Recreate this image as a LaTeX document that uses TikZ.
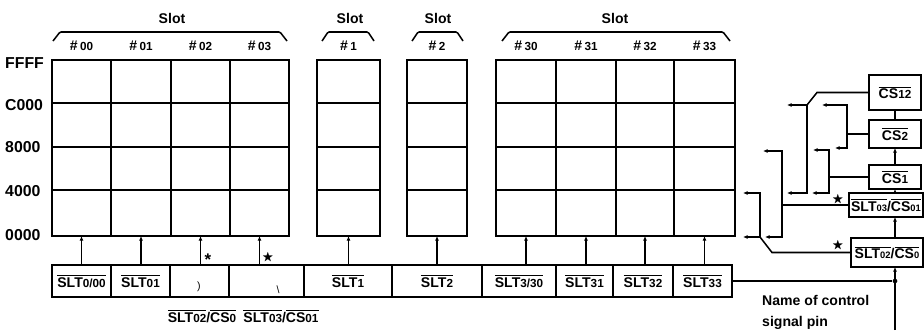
\documentclass[tikz,border=0pt]{standalone}
\usepackage{amssymb}
\usepackage{fontspec}
\setmainfont{Liberation Sans}
\usetikzlibrary{positioning, arrows.meta}
\newcommand{\nbar}[1]{$\overline{\hbox{#1}}$}
\newcommand{\lo}[1]{{\normalsize #1}}
\newcommand{\los}[1]{{\footnotesize #1}}
\tikzset{
  pxw/.style      = {minimum width=(#1)*0.03cm},
  pxh/.style      = {minimum height=(#1)*0.03cm},
  cell/.style     = {draw, line width=1.3pt, inner sep=0pt, outer sep=0pt},
  barcell/.style  = {draw, line width=1.3pt, inner sep=1pt, outer sep=0pt, minimum height=32*0.03cm, font=\large\bfseries},
  pinbox/.style   = {draw, line width=1.3pt, inner sep=0pt, outer sep=0pt, font=\large\bfseries},
  addr/.style     = {anchor=west, inner sep=0pt, font=\fontsize{13.5}{16}\selectfont\bfseries},
  slotlbl/.style  = {inner sep=0pt, font=\large\bfseries},
  hashlbl/.style  = {inner sep=0pt, font=\large\bfseries},
  sublbl/.style   = {inner sep=0pt, font=\large\bfseries},
  marklbl/.style  = {inner sep=0pt, font=\normalsize\bfseries},
  slotcap/.style  = {line width=1.3pt, rounded corners=1pt},
  fwd/.style      = {-{Latex[length=4pt, width=3.5pt]}, line width=1.1pt},
  wire/.style     = {line width=1.3pt},
  bracket/.style  = {{Latex[length=4pt, width=3.5pt]}-{Latex[length=4pt, width=3.5pt]}, line width=1.3pt},
  jdot/.style     = {circle, fill, inner sep=0pt, minimum size=4pt}
}

\begin{document}
\begin{tikzpicture}[x=0.03cm, y=-0.03cm]
  \useasboundingbox (0,0) rectangle (924,334);

    % ── Slot headers ─────────────────────────────────────────────────────
    \node[slotlbl] (slotL) at (172,18) {Slot};
    \node[slotlbl] (slot1) at (350,18) {Slot};
    \node[slotlbl] (slot2) at (438,18) {Slot};
    \node[slotlbl] (slot3) at (615,18) {Slot};

    \draw[slotcap] (53,41)  -- (60,32)  -- (280,32) -- (287,41);
    \draw[slotcap] (322,41) -- (328,32) -- (368,32) -- (374,41);
    \draw[slotcap] (412,41) -- (418,32) -- (457,32) -- (463,41);
    \draw[slotcap] (502,41) -- (509,32) -- (723,32) -- (730,41);

    % ── Address labels ───────────────────────────────────────────────────
    \node[addr] (aFFFF) at (5,63)  {FFFF};
    \node[addr] (aC000) at (5,105) {C000};
    \node[addr] (a8000) at (5,147) {8000};
    \node[addr] (a4000) at (5,191) {4000};
    \node[addr] (a0000) at (5,235) {0000};

    % ════════════════════════════════════════════════════════════════════
    %  MEMORY MAP: one column per slot, four pages each
    % ════════════════════════════════════════════════════════════════════
    \foreach \cn/\lx/\rx in {00/52/111, 01/111/171, 02/171/230, 03/230/289,
                             1/317/380, 2/407/467,
                             30/496/556, 31/556/616, 32/616/674, 33/674/735}{
      \foreach \pg/\ty/\by in {3/60/103, 2/103/147, 1/147/190, 0/190/236}
        \node[cell, pxw={\rx-\lx}, pxh={\by-\ty}] (m\cn-\pg)
          at ({(\lx+\rx)/2}, {(\ty+\by)/2}) {};
      \node[hashlbl] (h\cn) at ({(\lx+\rx)/2}, 46) {\#\,\lo{\cn}};
    }

    % ── Slot select bar ──────────────────────────────────────────────────
    \node[barcell, pxw=59] (b00) at (81.5,281) {\nbar{SLT\lo{0/00}}};
    \node[barcell, pxw=59, right=0pt of b00] (b01) {\nbar{SLT\lo{01}}};
    \node[barcell, pxw=59, right=0pt of b01] (b02) {};
    \node[barcell, pxw=75, right=0pt of b02] (b03) {};
    \node[barcell, pxw=88, right=0pt of b03] (b1)  {\nbar{SLT\lo{1}}};
    \node[barcell, pxw=90, right=0pt of b1]  (b2)  {\nbar{SLT\lo{2}}};
    \node[barcell, pxw=74, right=0pt of b2]  (b30) {\nbar{SLT\lo{3/30}}};
    \node[barcell, pxw=57, right=0pt of b30] (b31) {\nbar{SLT\lo{31}}};
    \node[barcell, pxw=60, right=0pt of b31] (b32) {\nbar{SLT\lo{32}}};
    \node[barcell, pxw=59, right=0pt of b32] (b33) {\nbar{SLT\lo{33}}};

    \node[marklbl, font=\small] (k02) at (199,287) {)};
    \node[marklbl, font=\small] (k03) at (278,290) {\textbackslash};

    \node[sublbl] (u02) at (202,316) {\nbar{SLT\lo{02}}/\nbar{CS\lo{0}}};
    \node[sublbl] (u03) at (281,316) {\nbar{SLT\lo{03}}/\nbar{CS\lo{01}}};

    % select lines up into the bottom page of each slot
    \foreach \cn in {00,01,02,03,1,2,30,31,32,33}
      \draw[fwd] (m\cn-0.south |- b\cn.north) -- (m\cn-0.south);

    \node[marklbl, font=\Large\bfseries] (st02) at (208,260) {*};
    \node[marklbl] (st03) at (268,258) {$\bigstar$};

    % ════════════════════════════════════════════════════════════════════
    %  RIGHT: control signal pins
    % ════════════════════════════════════════════════════════════════════
    \node[pinbox, pxw=52, pxh=35] (cs12)  at (895,92.5) {\nbar{CS\lo{12}}};
    \node[pinbox, pxw=52, pxh=28] (cs2)   at (895,134)  {\nbar{CS\lo{2}}};
    \node[pinbox, pxw=52, pxh=24] (cs1)   at (895,177)  {\nbar{CS\lo{1}}};
    \node[pinbox, pxw=74, pxh=24] (slt03) at (886,205)
      {\nbar{SLT\los{03}}/\nbar{CS\los{01}}};
    \node[pinbox, pxw=72, pxh=29] (slt02) at (887,252.5)
      {\nbar{SLT\los{02}}/\nbar{CS\los{0}}};

    \coordinate (pin) at (895,330);
    \node[jdot] (jn) at (pin |- b33.east) {};

    \draw[wire] (cs12.south) -- (cs2.north);
    \draw[fwd]  (cs1.north) -- (cs2.south);
    \draw[fwd]  (slt03.north -| pin) -- (cs1.south);
    \draw[fwd]  (slt02.north -| pin) -- (slt03.south -| pin);
    \draw[fwd]  (pin) -- (slt02.south -| pin);
    \draw[wire] (b33.east) -- (jn);

    % page ranges gathered into each pin
    \draw[bracket] (787,105) -- (807,105) -- (807,193) -- (787,193);
    \draw[wire]    (807,105) -- (817,92.5) -- (cs12.west);

    \draw[bracket] (822,105) -- (847,105) -- (847,148) -- (835,148);
    \draw[wire]    (847,134) -- (cs2.west);

    \draw[bracket] (813,150) -- (829,150) -- (829,193) -- (812,193);
    \draw[wire]    (829,177) -- (cs1.west);

    \draw[bracket] (763,151) -- (782,151) -- (782,237) -- (765,237);
    \draw[wire]    (782,205) -- (slt03.west);
    \node[marklbl] (st31) at (838,200) {$\bigstar$};

    \draw[bracket] (743,193) -- (760,193) -- (760,237) -- (743,237);
    \draw[wire]    (760,237) -- (772,252.5) -- (slt02.west);
    \node[marklbl] (st30) at (838,246) {$\bigstar$};

    \node[sublbl, anchor=west, align=left] (pinname) at (762,312)
      {Name of control\\[4pt]signal pin};

\end{tikzpicture}
\end{document}
